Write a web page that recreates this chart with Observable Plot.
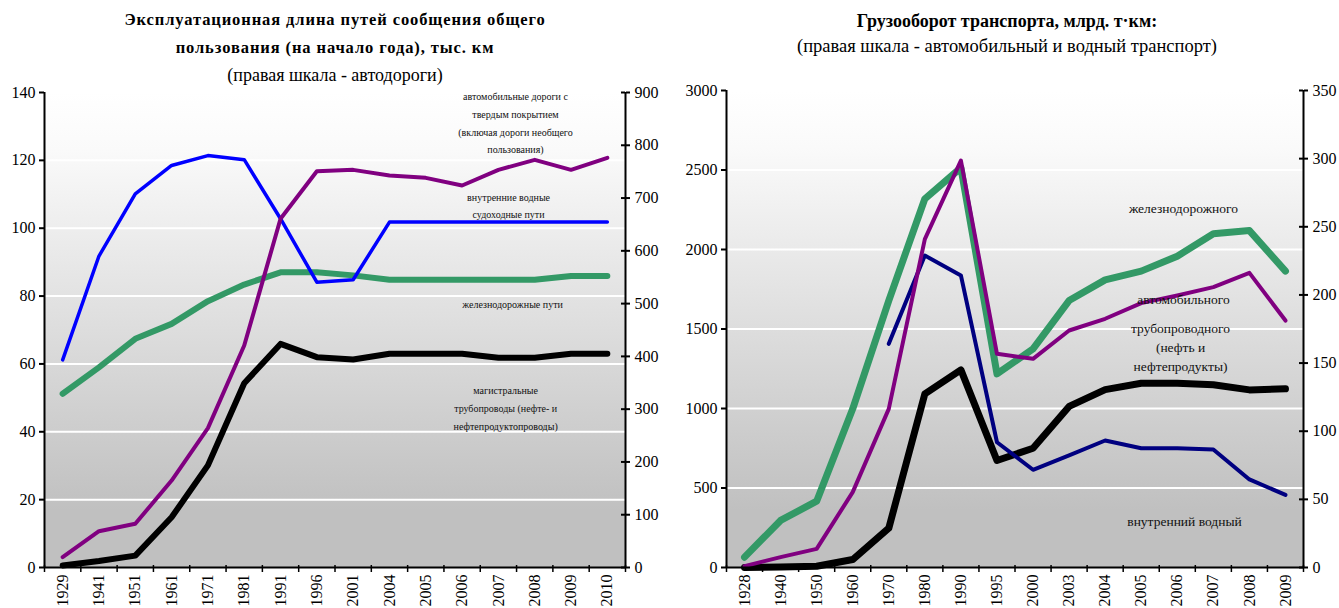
<!DOCTYPE html>
<html><head><meta charset="utf-8">
<script src="https://cdn.jsdelivr.net/npm/d3@7"></script>
<script src="https://cdn.jsdelivr.net/npm/@observablehq/plot@0.6"></script>
<style>
body{margin:0;background:#fff;width:1339px;height:608px;overflow:hidden;position:relative;font-family:"Liberation Serif","Times New Roman",serif;color:#000;}
.t{position:absolute;text-align:center;white-space:nowrap;}
#left,#right{position:absolute;top:0}
#left{left:0}#right{left:670px}
</style></head><body>
<div class="t" style="left:0;width:670px;top:6px;font-weight:bold;font-size:16.5px;line-height:28px;letter-spacing:0.9px">Эксплуатационная длина путей сообщения общего<br>пользования (на начало года), тыс. км</div>
<div class="t" style="left:0;width:670px;top:64px;font-size:18px;line-height:22px">(правая шкала - автодороги)</div>
<div class="t" style="left:670px;width:674px;top:10px;font-weight:bold;font-size:18px;line-height:22px">Грузооборот транспорта, млрд. т·км:</div>
<div class="t" style="left:670px;width:674px;top:35px;font-size:18.5px;line-height:22px">(правая шкала - автомобильный и водный транспорт)</div>
<div id="left"></div><div id="right"></div>
<script>
// ---- Left chart data ----
const yearsL = ["1929","1941","1951","1961","1971","1981","1991","1996","2001","2004","2005","2006","2007","2008","2009","2010"];
const waterwaysL = [61.2, 91.8, 110.1, 118.5, 121.4, 120.2, 102.8, 84.1, 84.8, 101.8, 101.8, 101.8, 101.8, 101.8, 101.8, 101.8];
const railL = [51.2, 59.0, 67.4, 71.8, 78.5, 83.4, 87.0, 87.0, 86.1, 84.8, 84.8, 84.8, 84.8, 84.8, 85.9, 85.9];
const pipeL = [0.6, 1.9, 3.5, 14.8, 30.1, 54.3, 65.9, 62.0, 61.3, 63.0, 63.0, 63.0, 61.8, 61.8, 63.0, 63.0];
const roadsL = [19.5, 68.8, 82.8, 164.8, 264, 420.6, 660.7, 750.9, 753.4, 742.7, 738.3, 723.8, 753.4, 772.4, 753.4, 776.2]; // right scale
const yTicksL = [0, 20, 40, 60, 80, 100, 120, 140];
const y2TicksL = [0, 100, 200, 300, 400, 500, 600, 700, 800, 900];
const labelsL = [
  {x: 12.47, y: 131.6, text: "автомобильные дороги с\nтвердым покрытием\n(включая дороги необщего\nпользования)"},
  {x: 12.28, y: 107.2, text: "внутренние водные\nсудоходные пути"},
  {x: 12.39, y: 78.2, text: "железнодорожные пути"},
  {x: 12.2, y: 47.5, text: "магистральные\nтрубопроводы (нефте- и\nнефтепродуктопроводы)"}
];

// ---- Right chart data ----
const yearsR = ["1928","1940","1950","1960","1970","1980","1990","1995","2000","2003","2004","2005","2006","2007","2008","2009"];
const railR = [65, 296, 417, 998, 1679, 2319, 2514, 1218, 1375, 1679, 1809, 1864, 1958, 2099, 2119, 1864];
const pipeR = [0, 3, 8, 50, 247, 1092, 1243, 673, 750, 1013, 1119, 1159, 1159, 1149, 1117, 1124];
const autoR = [1, 7.6, 13.7, 55.3, 116.4, 241, 298.6, 156.8, 153.1, 173.9, 182.5, 194, 199.6, 205.7, 216.2, 181.2]; // right scale
const waterR = [null, null, null, null, 164.1, 228.9, 214.3, 91.9, 71.7, 82.2, 93.2, 87.5, 87.5, 86.6, 64.6, 53.3]; // right scale
const yTicksR = [0, 500, 1000, 1500, 2000, 2500, 3000];
const y2TicksR = [0, 50, 100, 150, 200, 250, 300, 350];
const labelsR = [
  {x: 12.17, y: 2270, text: "железнодорожного"},
  {x: 12.17, y: 1692, text: "автомобильного"},
  {x: 12.09, y: 1393, text: "трубопроводного\n(нефть и\nнефтепродукты)"},
  {x: 12.2, y: 296, text: "внутренний водный"}
];

function makeChart(cfg) {
  const n = cfg.years.length;
  const yMax = cfg.yTicks[cfg.yTicks.length - 1];
  const y2Max = cfg.y2Ticks[cfg.y2Ticks.length - 1];
  const k = yMax / y2Max;
  const rows = (vals, s) => vals.map((v, i) => ({x: i, y: v == null ? null : v * s})).filter(d => d.y != null);
  const svg = Plot.plot({
    width: cfg.width, height: 608,
    marginLeft: cfg.ml, marginRight: cfg.mr, marginTop: cfg.mt, marginBottom: 41,
    style: {fontFamily: "'Liberation Serif', 'Times New Roman', serif", background: "transparent", color: "#000", overflow: "visible"},
    x: {type: "linear", domain: [-0.5, n - 0.5], axis: null},
    y: {domain: [0, yMax], axis: null},
    marks: [
      Plot.frame({fill: `url(#${cfg.id}-bg)`, stroke: "none"}),
      Plot.ruleY(cfg.grid, {stroke: "#fff", strokeWidth: 2}),
      ...cfg.series.map(s => Plot.line(rows(s.values, s.right ? k : 1), {
        x: "x", y: "y", stroke: s.color, strokeWidth: s.width, strokeLinecap: "round", strokeLinejoin: "round"
      })),
      Plot.text(cfg.labels, {x: "x", y: "y", text: "text", fontSize: cfg.labelSize, lineHeight: cfg.labelLH, fill: "#111"}),
      Plot.ruleX([-0.5, n - 0.5], {stroke: "#000", strokeWidth: 2}),
      Plot.ruleY([0], {stroke: "#000", strokeWidth: 2}),
      Plot.axisY(cfg.yTicks, {anchor: "left", tickSize: 5, tickPadding: 4, tickFormat: d => String(d), fontSize: 16, strokeWidth: 2, label: null}),
      Plot.axisY(cfg.y2Ticks.map(v => v * k), {anchor: "right", tickSize: 4, tickPadding: 5, tickFormat: v => String(Math.round(v / k)), fontSize: 16, strokeWidth: 2, label: null}),
      Plot.ruleY(cfg.y2Ticks.map(v => v * k), {x1: n - 0.5, x2: n - 0.5, insetLeft: -4, stroke: "#000", strokeWidth: 2}),
      Plot.ruleX(d3.range(n + 1).map(i => i - 0.5), {y1: 0, y2: 0, insetTop: -2, insetBottom: -5, stroke: "#000", strokeWidth: 1.5}),
      Plot.axisX(d3.range(n), {tickFormat: i => cfg.years[i], tickRotate: -90, tickSize: 0, tickPadding: 7, fontSize: 16, label: null})
    ]
  });
  d3.select(svg).insert("defs", ":first-child")
    .append("linearGradient").attr("id", cfg.id + "-bg")
    .attr("x1", 0).attr("y1", 0).attr("x2", 0).attr("y2", 1)
    .selectAll("stop")
    .data([[0, "#ffffff"], [0.12, "#fafafa"], [0.88, "#c0c0c0"], [1, "#c0c0c0"]])
    .join("stop").attr("offset", d => d[0]).attr("stop-color", d => d[1]);
  return svg;
}

document.getElementById("left").appendChild(makeChart({
  id: "L", width: 670, ml: 44, mr: 45, mt: 92,
  years: yearsL, yTicks: yTicksL, y2Ticks: y2TicksL, grid: [20, 40, 60, 80, 100, 120],
  series: [
    {values: railL, color: "#339966", width: 6},
    {values: pipeL, color: "#000000", width: 6},
    {values: waterwaysL, color: "#0000ff", width: 3.5},
    {values: roadsL, color: "#800080", width: 4, right: true}
  ],
  labels: labelsL, labelSize: 10, labelLH: 1.77
}));

document.getElementById("right").appendChild(makeChart({
  id: "R", width: 669, ml: 56, mr: 36, mt: 90,
  years: yearsR, yTicks: yTicksR, y2Ticks: y2TicksR, grid: [500, 1000, 1500, 2000, 2500],
  series: [
    {values: railR, color: "#339966", width: 7},
    {values: pipeR, color: "#000000", width: 7},
    {values: waterR, color: "#000080", width: 4, right: true},
    {values: autoR, color: "#800080", width: 4, right: true}
  ],
  labels: labelsR, labelSize: 13.5, labelLH: 1.38
}));
</script>
</body></html>
